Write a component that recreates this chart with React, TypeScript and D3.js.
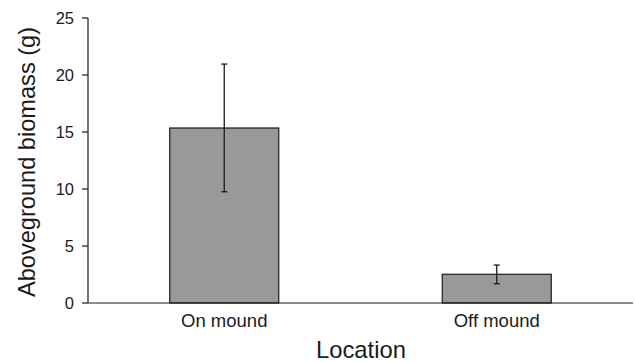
import React from "react";
import * as d3 from "d3";

const categories = ["On mound", "Off mound"];
const means = [15.35, 2.52];
const errLow = [9.76, 1.69];
const errHigh = [20.96, 3.33];
const yTicks = [0, 5, 10, 15, 20, 25];

const W = 635;
const H = 362;
const margin = { left: 88, right: 2, top: 18, bottom: 59 };

export default function App() {
  const x = d3
    .scaleBand<string>()
    .domain(categories)
    .range([margin.left, W - margin.right])
    .paddingInner(0.6)
    .paddingOuter(0.3);
  const y = d3.scaleLinear().domain([0, 25]).range([H - margin.bottom, margin.top]);
  const font = "'Liberation Sans', Arial, Helvetica, sans-serif";
  const y0 = y(0);
  return (
    <svg width={W} height={H} style={{ position: "absolute", left: 0, top: 0 }} fontFamily={font}>
      {categories.map((c, i) => {
        const bx = x(c)!;
        const cx = bx + x.bandwidth() / 2;
        return (
          <g key={c}>
            <rect x={bx} y={y(means[i])} width={x.bandwidth()} height={y0 - y(means[i])} fill="#999999" stroke="#1a1a1a" strokeWidth={1.2} />
            <line x1={cx} x2={cx} y1={y(errLow[i])} y2={y(errHigh[i])} stroke="#1a1a1a" strokeWidth={1.3} />
            <line x1={cx - 3} x2={cx + 3} y1={y(errLow[i])} y2={y(errLow[i])} stroke="#1a1a1a" strokeWidth={1.3} />
            <line x1={cx - 3} x2={cx + 3} y1={y(errHigh[i])} y2={y(errHigh[i])} stroke="#1a1a1a" strokeWidth={1.3} />
            <text x={cx} y={327} textAnchor="middle" fontSize={18.5} fill="#1a1a1a">{c}</text>
          </g>
        );
      })}
      <line x1={margin.left} x2={W - margin.right} y1={y0} y2={y0} stroke="#1a1a1a" strokeWidth={1.2} />
      <line x1={margin.left} x2={margin.left} y1={y(25)} y2={y0} stroke="#1a1a1a" strokeWidth={1.2} />
      {yTicks.map((t) => (
        <g key={t}>
          <line x1={margin.left - 6} x2={margin.left} y1={y(t)} y2={y(t)} stroke="#1a1a1a" strokeWidth={1.2} />
          <text x={74} y={y(t)} dy="0.36em" textAnchor="end" fontSize={16.5} fill="#1a1a1a">{t}</text>
        </g>
      ))}
      <text x={361} y={358} textAnchor="middle" fontSize={23.8} fill="#1a1a1a">Location</text>
      <text transform={`translate(35, 162) rotate(-90)`} textAnchor="middle" fontSize={23.6} fill="#1a1a1a">Aboveground biomass (g)</text>
    </svg>
  );
}
